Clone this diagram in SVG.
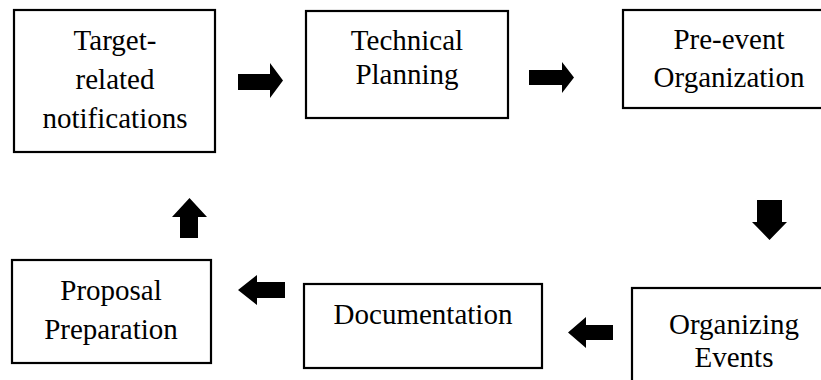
<svg xmlns="http://www.w3.org/2000/svg" width="821" height="380" viewBox="0 0 821 380">
<style>
.box{fill:#fff;stroke:#000;stroke-width:2.2}
.t{font-family:'Liberation Serif','Times New Roman',serif;font-size:29px;fill:#000;text-anchor:middle}
.arr{fill:#000}
</style>
<rect width="821" height="380" fill="#fff"/>
<g id="n1"><rect class="box" x="14" y="10" width="201" height="142"/>
<text class="t" x="115" y="50">Target-</text>
<text class="t" x="115" y="89">related</text>
<text class="t" x="115" y="128">notifications</text></g>
<g id="n2"><rect class="box" x="306" y="11" width="202" height="107"/>
<text class="t" x="407" y="50">Technical</text>
<text class="t" x="407" y="84">Planning</text></g>
<g id="n3"><rect class="box" x="623" y="10" width="212" height="98"/>
<text class="t" x="729" y="49">Pre-event</text>
<text class="t" x="729" y="87">Organization</text></g>
<g id="n4"><rect class="box" x="632" y="288" width="205" height="110"/>
<text class="t" x="734" y="334">Organizing</text>
<text class="t" x="734" y="367">Events</text></g>
<g id="n5"><rect class="box" x="304" y="284" width="238" height="84"/>
<text class="t" x="423" y="324">Documentation</text></g>
<g id="n6"><rect class="box" x="12" y="260" width="199" height="103"/>
<text class="t" x="111" y="300">Proposal</text>
<text class="t" x="111" y="339">Preparation</text></g>
<g id="connectors">
<path class="arr" d="M238,74 H270 V63 L283,80.5 L270,98 V90 H238 Z"/>
<path class="arr" d="M529,70 H562 V62 L574,77.5 L562,93 V85 H529 Z"/>
<path class="arr" d="M757,200 H782 V222 H787 L769.5,240 L752,222 H757 Z"/>
<path class="arr" d="M613,325 H586 V317 L568,332.5 L586,348 V340 H613 Z"/>
<path class="arr" d="M285,282 H257 V275 L238,290 L257,305 V298 H285 Z"/>
<path class="arr" d="M189.5,198 L207,217 H198 V238 H180 V217 H172 Z"/>
</g>
</svg>
